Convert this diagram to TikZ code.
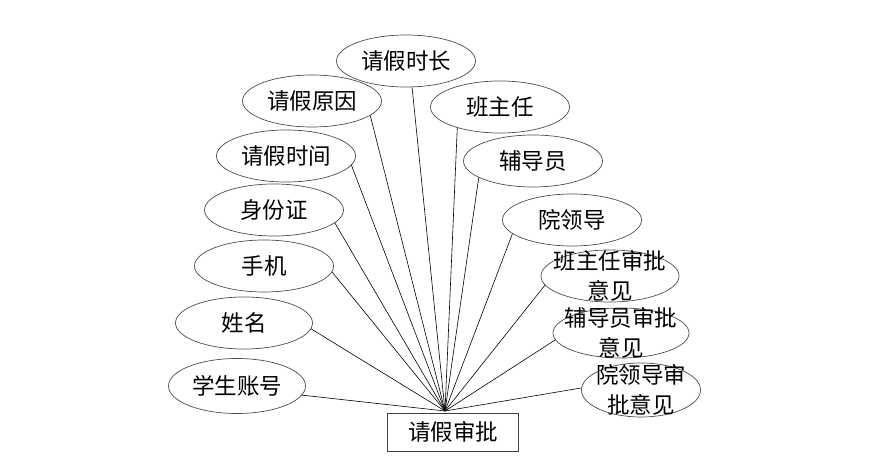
\documentclass[tikz,border=0pt]{standalone}
\usepackage{fontspec}
\setmainfont{Noto Sans CJK SC}
\usetikzlibrary{shapes.geometric}
\begin{document}
\begin{tikzpicture}[x=1pt,y=1pt,
  attr/.style={ellipse,draw=black!70,line width=0.7pt,minimum width=139pt,minimum height=52pt,inner sep=0pt,font=\fontsize{22.5}{30}\selectfont},
  lbl/.style={align=center,inner sep=0pt,font=\fontsize{22.5}{30}\selectfont},
  ent/.style={rectangle,draw=black!75,line width=0.8pt,minimum width=131pt,minimum height=38pt,inner sep=0pt,font=\fontsize{22.5}{30}\selectfont},
  conn/.style={draw=black,line width=0.6pt}]
\useasboundingbox (0,0) rectangle (885,468);
\node[ent] (main) at (453,36) {请假审批};
\coordinate (hub) at (445,57);
\node[attr] (a1) at (406,407) {请假时长};
\node[attr] (a2) at (312,367) {请假原因};
\node[attr] (a3) at (286,312) {请假时间};
\node[attr] (a4) at (274,258) {身份证};
\node[attr] (a5) at (264,202) {手机};
\node[attr,minimum width=137pt] (a6) at (244,145) {姓名};
\node[attr,minimum width=137pt,minimum height=55pt] (a7) at (237,82) {学生账号};
\node[attr] (b1) at (500,361) {班主任};
\node[attr] (b2) at (533,307) {辅导员};
\node[attr] (b3) at (572,248) {院领导};
\node[attr,minimum width=138pt] (b4) at (610,192) {};
\node[lbl] at (b4.center) {班主任审批\\意见};
\node[attr,minimum width=136pt,minimum height=50pt] (b5) at (621,135) {};
\node[lbl] at (b5.center) {辅导员审批\\意见};
\node[attr,minimum width=119pt,minimum height=54pt] (b6) at (641,78) {};
\node[lbl] at (b6.center) {院领导审\\批意见};
\foreach \n/\a in {a1/-77,a2/-14,a3/-8,a4/-12,a5/-5,a6/-5,a7/-8,b1/-154,b2/-163,b3/-167,b4/-172,b5/-174,b6/178}
  \draw[conn] (hub) -- (\n.\a);
\end{tikzpicture}
\end{document}
